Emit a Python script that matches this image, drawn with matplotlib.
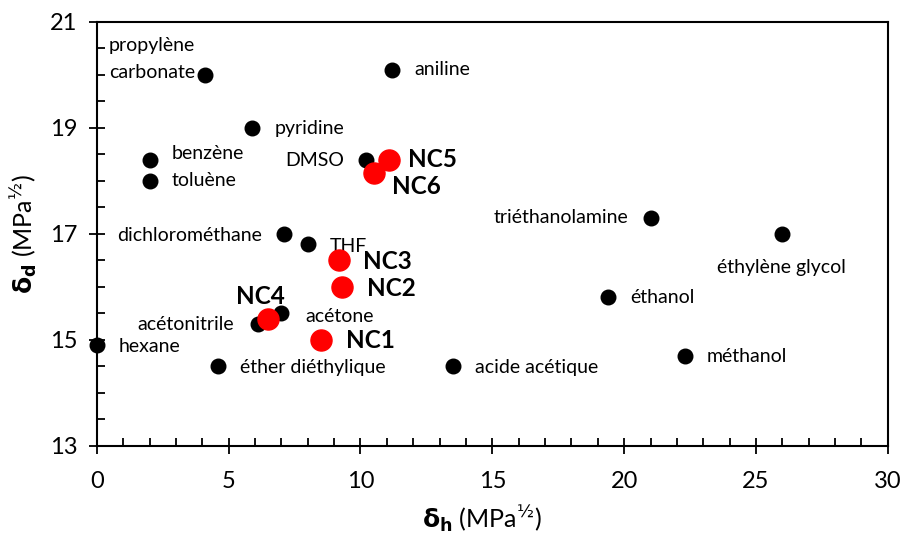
import matplotlib
matplotlib.use("Agg")
import matplotlib.pyplot as plt
from matplotlib.ticker import MultipleLocator

plt.rcParams['font.family'] = ['Lato', 'DejaVu Sans']

solvents = ["hexane", "propylène\ncarbonate", "aniline", "pyridine", "benzène", "toluène",
            "DMSO", "dichlorométhane", "THF", "triéthanolamine", "éthylène glycol",
            "éthanol", "acétone", "acétonitrile", "éther diéthylique", "acide acétique",
            "méthanol"]
solv_dh = [0.0, 4.1, 11.2, 5.9, 2.0, 2.0, 10.2, 7.1, 8.0, 21.0, 26.0, 19.4, 7.0, 6.1, 4.6, 13.5, 22.3]
solv_dd = [14.9, 20.0, 20.1, 19.0, 18.4, 18.0, 18.4, 17.0, 16.8, 17.3, 17.0, 15.8, 15.5, 15.3, 14.5, 14.5, 14.7]

nc_names = ["NC1", "NC2", "NC3", "NC4", "NC5", "NC6"]
nc_dh = [8.5, 9.3, 9.2, 6.5, 11.1, 10.5]
nc_dd = [15.0, 16.0, 16.5, 15.4, 18.4, 18.15]

x_ticks = [0, 5, 10, 15, 20, 25, 30]
y_ticks = [13, 15, 17, 19, 21]

# label offsets in pixels (dx, dy, ha)
solv_off = {
    "hexane": (22, -1, "left"),
    "propylène\ncarbonate": (-10, 16, "right"),
    "aniline": (22, 0, "left"),
    "pyridine": (22, -1, "left"),
    "benzène": (22, 6, "left"),
    "toluène": (22, 0, "left"),
    "DMSO": (-22, -1, "right"),
    "dichlorométhane": (-22, -2, "right"),
    "THF": (22, -2, "left"),
    "triéthanolamine": (-22, 0, "right"),
    "éthylène glycol": (-65, -34, "left"),
    "éthanol": (22, 0, "left"),
    "acétone": (24, -3, "left"),
    "acétonitrile": (-24, -1, "right"),
    "éther diéthylique": (22, -1, "left"),
    "acide acétique": (22, -1, "left"),
    "méthanol": (22, -1, "left"),
}
nc_off = {
    "NC1": (25, -1, "left"),
    "NC2": (25, -2, "left"),
    "NC3": (24, -1, "left"),
    "NC4": (-32, 22, "left"),
    "NC5": (19, 0, "left"),
    "NC6": (18, -14, "left"),
}

fig = plt.figure(figsize=(9.05, 5.34), dpi=100)
ax = fig.add_axes([0.107, 0.165, 0.874, 0.794])

ax.scatter(solv_dh, solv_dd, s=110, color="black", zorder=3, clip_on=False)
ax.scatter(nc_dh, nc_dd, s=230, color="#ff0000", zorder=4, clip_on=False)

for name, x, y in zip(solvents, solv_dh, solv_dd):
    dx, dy, ha = solv_off[name]
    ax.annotate(name, (x, y), xytext=(dx, dy), textcoords="offset pixels",
                ha=ha, va="center", fontsize=14, linespacing=1.75, multialignment="left")
for name, x, y in zip(nc_names, nc_dh, nc_dd):
    dx, dy, ha = nc_off[name]
    ax.annotate(name, (x, y), xytext=(dx, dy), textcoords="offset pixels",
                ha=ha, va="center", fontsize=17.5, fontweight="bold")

ax.set_xlim(0, 30)
ax.set_ylim(13, 21)
ax.set_xticks(x_ticks)
ax.set_yticks(y_ticks)
ax.xaxis.set_minor_locator(MultipleLocator(1))
ax.yaxis.set_minor_locator(MultipleLocator(0.5))
ax.tick_params(which="major", direction="inout", length=12, width=1.3, labelsize=17, pad=4)
ax.tick_params(which="minor", direction="in", length=6, width=1.3)
ax.tick_params(axis="x", which="major", pad=12)
ax.tick_params(axis="y", which="major", pad=8)
for sp in ax.spines.values():
    sp.set_linewidth(1.5)

ax.set_xlabel(r"$\mathbf{\delta_h}$ (MPa$^{½}$)", fontsize=18)
ax.set_ylabel(r"$\mathbf{\delta_d}$ (MPa$^{½}$)", fontsize=18, labelpad=8)
ax.xaxis.set_label_coords(0.487, -0.135)

fig.savefig("out.png", dpi=100)
